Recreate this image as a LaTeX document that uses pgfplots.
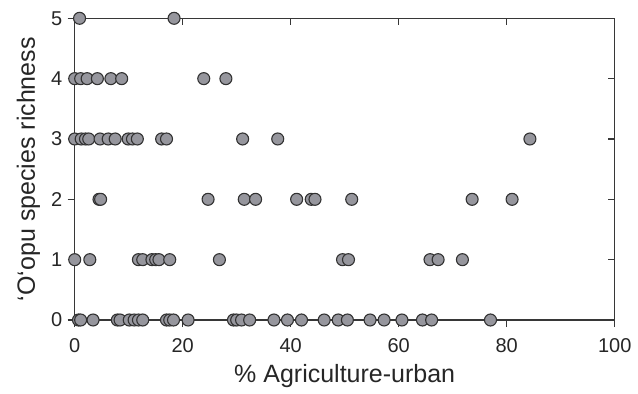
\documentclass[border=0pt]{standalone}
\usepackage{pgfplots}
\pgfplotsset{compat=1.18}
\usepackage{fontspec}
\setmainfont{Liberation Sans}
\definecolor{mfill}{RGB}{150,150,157}
\definecolor{medge}{RGB}{50,50,50}
\definecolor{axc}{RGB}{55,55,55}
\begin{document}
\begin{tikzpicture}
\pgfplotsset{
  common/.style={
    scale only axis, width=540pt, height=301.7pt,
    xmin=0, xmax=100, ymin=0, ymax=5,
    xtick={0,20,...,100}, ytick={0,1,...,5},
    clip=false,
    axis line style={draw=axc, line width=1.3pt},
    major tick length=7pt,
    every tick/.style={draw=axc, line width=1.3pt},
    /pgf/number format/assume math mode=true,
  }
}
\begin{axis}[common, at={(0,0)}, anchor=south west,
  xtick pos=top, ytick pos=right, tick align=inside,
  xticklabels={}, yticklabels={}]
\end{axis}
\begin{axis}[common, at={(0,0)}, anchor=south west,
  xtick pos=bottom, ytick pos=left, tick align=outside,
  ticklabel style={font=\fontsize{20}{24}\selectfont, text=black!85},
  xticklabel style={yshift=-8pt},
  yticklabel style={xshift=-2pt},
  label style={font=\fontsize{25}{30}\selectfont, text=black!85},
  xlabel={\% Agriculture-urban},
  xlabel style={yshift=-5pt},
  ylabel={‘O‘opu species richness},
  ylabel style={yshift=4pt},
  ]
\coordinate (ll) at (rel axis cs:0,0);
\addplot[only marks, mark=*, mark size=6pt,
  mark options={fill=mfill, draw=medge, line width=1.1pt}]
  table[x=x, y=y] {
x y
0.7 0
1.1 0
3.4 0
7.9 0
8.4 0
10.1 0
11.0 0
11.8 0
12.6 0
17.0 0
17.6 0
18.3 0
21.0 0
29.4 0
30.0 0
30.9 0
32.4 0
36.9 0
39.4 0
42.0 0
46.2 0
48.8 0
50.5 0
54.7 0
57.3 0
60.6 0
64.4 0
66.1 0
77.0 0
0.0 1
2.8 1
11.8 1
12.6 1
14.3 1
15.0 1
15.6 1
17.6 1
26.8 1
49.6 1
50.7 1
65.8 1
67.3 1
71.8 1
4.5 2
4.8 2
24.7 2
31.4 2
33.5 2
41.1 2
43.8 2
44.5 2
51.3 2
73.6 2
81.0 2
0.0 3
1.2 3
2.0 3
2.6 3
4.7 3
6.2 3
7.5 3
9.9 3
10.7 3
11.6 3
16.1 3
17.0 3
31.1 3
37.6 3
84.3 3
0.0 4
1.1 4
2.3 4
4.2 4
6.7 4
8.7 4
23.9 4
28.0 4
0.9 5
18.4 5
};
\end{axis}
\pgfresetboundingbox
\path[use as bounding box] ([xshift=-74.7pt,yshift=-74pt]ll) rectangle ([xshift=563.3pt,yshift=320pt]ll);
\end{tikzpicture}
\end{document}
